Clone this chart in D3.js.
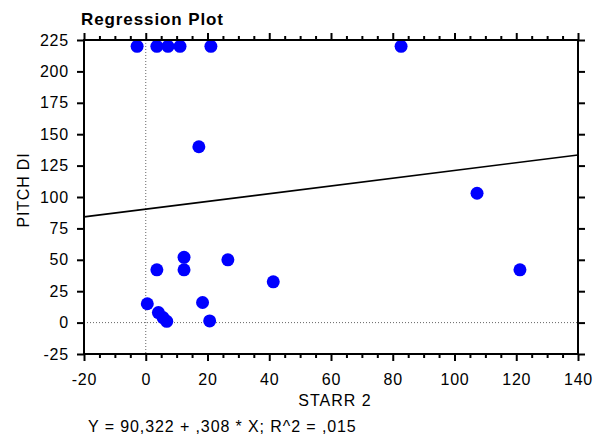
<!DOCTYPE html>
<html>
<head>
<meta charset="utf-8">
<script src="https://cdn.jsdelivr.net/npm/d3@7"></script>
<style>
  html, body { margin: 0; padding: 0; background: #fff; }
  svg { display: block; }
  text { font-family: "Liberation Sans", Arial, sans-serif; fill: #000; }
</style>
</head>
<body>
<script>
// ---- data ----
const starr2 = [-2.8, 3.6, 7.2, 11.1, 21.1, 82.7, 17.2, 107.3, 121.2, 12.4, 12.4, 3.6, 26.6, 41.3, 0.5, 4.1, 5.6, 6.8, 18.4, 20.7];
const pitchDI = [220, 220, 220, 220, 220, 220, 140, 103, 42, 52, 42, 42, 50, 32.5, 15, 8, 4, 1, 16, 1.3];
const xTicks = [-20, 0, 20, 40, 60, 80, 100, 120, 140];
const yTicks = [-25, 0, 25, 50, 75, 100, 125, 150, 175, 200, 225];
const intercept = 90.322;
const slope = 0.308;
const titleText = "Regression Plot";
const xLabel = "STARR 2";
const yLabel = "PITCH DI";
const equationText = "Y = 90,322 + ,308 * X; R^2 = ,015";

// ---- layout ----
const W = 602, H = 438;
const pL = 84, pR = 578, pT = 40, pB = 354;

const svg = d3.select("body").append("svg").attr("width", W).attr("height", H);

const x = d3.scaleLinear().domain([-20, 140]).range([pL, pR]);
const y = d3.scaleLinear().domain([-25, 225]).range([pB, pT]);

const minorX = d3.range(-20, 141, 5).filter(v => v % 20 !== 0);
const fmt = d => String(d);

// reference dotted lines
svg.append("line")
  .attr("x1", x(0)).attr("x2", x(0)).attr("y1", pT).attr("y2", pB)
  .attr("stroke", "#666").attr("stroke-width", 1).attr("stroke-dasharray", "1,2");
svg.append("line")
  .attr("x1", pL).attr("x2", pR).attr("y1", y(0)).attr("y2", y(0))
  .attr("stroke", "#666").attr("stroke-width", 1).attr("stroke-dasharray", "1,2");

// regression line
svg.append("line")
  .attr("x1", x(-20)).attr("y1", y(intercept + slope * -20))
  .attr("x2", x(140)).attr("y2", y(intercept + slope * 140))
  .attr("stroke", "#000").attr("stroke-width", 1.6);

// points
svg.append("g").selectAll("circle")
  .data(starr2.map((d, i) => [d, pitchDI[i]]))
  .join("circle")
  .attr("cx", d => x(d[0])).attr("cy", d => y(d[1]))
  .attr("r", 6.5).attr("fill", "#0000ff");

function styleAxis(g, showLabels) {
  g.select(".domain").remove();
  g.selectAll(".tick line").attr("stroke", "#000").attr("stroke-width", 2);
  g.selectAll(".tick text")
    .style("font-family", "'Liberation Sans', Arial, sans-serif")
    .style("font-size", "16px")
    .style("letter-spacing", "0.8px")
    .attr("fill", "#000");
  if (!showLabels) g.selectAll(".tick text").remove();
}

// bottom axis
const gb = svg.append("g").attr("transform", `translate(0,${pB})`)
  .call(d3.axisBottom(x).tickValues(xTicks).tickSize(7).tickPadding(13).tickFormat(fmt));
styleAxis(gb, true);
const gbm = svg.append("g").attr("transform", `translate(0,${pB})`)
  .call(d3.axisBottom(x).tickValues(minorX).tickSize(4).tickFormat(""));
styleAxis(gbm, false);

// top axis
const gt = svg.append("g").attr("transform", `translate(0,${pT})`)
  .call(d3.axisTop(x).tickValues(xTicks).tickSize(7).tickFormat(""));
styleAxis(gt, false);
const gtm = svg.append("g").attr("transform", `translate(0,${pT})`)
  .call(d3.axisTop(x).tickValues(minorX).tickSize(4).tickFormat(""));
styleAxis(gtm, false);

// left axis
const gl = svg.append("g").attr("transform", `translate(${pL},0)`)
  .call(d3.axisLeft(y).tickValues(yTicks).tickSize(7).tickPadding(8).tickFormat(fmt));
styleAxis(gl, true);

// right axis
const gr = svg.append("g").attr("transform", `translate(${pR},0)`)
  .call(d3.axisRight(y).tickValues(yTicks).tickSize(7).tickFormat(""));
styleAxis(gr, false);

// frame
svg.append("rect")
  .attr("x", pL).attr("y", pT).attr("width", pR - pL).attr("height", pB - pT)
  .attr("fill", "none").attr("stroke", "#000").attr("stroke-width", 2);

// texts
svg.append("text").attr("x", 81).attr("y", 25)
  .style("font-size", "17px").style("font-weight", "bold").style("letter-spacing", "0.9px")
  .text(titleText);

svg.append("text").attr("x", (pL + pR) / 2 + 4).attr("y", 406)
  .attr("text-anchor", "middle").style("font-size", "16px").style("letter-spacing", "1px")
  .text(xLabel);

svg.append("text")
  .attr("transform", `translate(29,190) rotate(-90)`)
  .attr("text-anchor", "middle").style("font-size", "16px").style("letter-spacing", "0.8px")
  .text(yLabel);

svg.append("text").attr("x", 88).attr("y", 432)
  .style("font-size", "16px").style("letter-spacing", "0.9px")
  .text(equationText);
</script>
</body>
</html>
